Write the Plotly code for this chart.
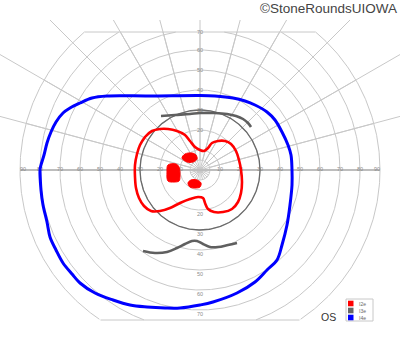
import math
import plotly.graph_objects as go

# ---------------- grid definition (degrees of visual field) ----------------
ring_radii = [5, 10, 20, 30, 40, 50, 60, 70, 80, 90]
meridian_angles = list(range(0, 360, 15))
h_label_values = [10, 20, 30, 40, 50, 60, 70, 80, 90]
v_label_values = [20, 30, 40, 50, 60, 70]
outer_radius = 90
top_limit = 69
bottom_limit = -75

# ---------------- isopters ----------------
# I4e (blue)
i4e_x = [-80, -79.5, -78.5, -76.5, -75, -72, -68.5, -64, -60, -52.5, -43.5, -35, -26.5, -17.5, -10, 0,
         6.5, 18.5, 27.5, 33.5, 38.5, 41, 43.5, 45, 46, 46, 45.5, 44, 41, 37.5, 33.5, 27.5, 22.5, 16.5,
         7.5, 0, -25, -46.5, -54, -60, -65, -68.5, -72, -74.5, -76.5, -78, -79.5]
i4e_y = [0, -10, -17.5, -26, -33.5, -40, -46.5, -52, -56.5, -61.5, -65, -67.5, -68.5, -69, -69, -67.5,
         -66, -61.5, -56, -50, -45, -37.5, -27.5, -17.5, -7.5, 0, 7.5, 12.5, 19, 25, 29, 32.5, 34.5, 36,
         37, 37.25, 37, 37, 36, 33.5, 31, 28.5, 24, 19, 13.5, 7.5, 2.5]

# I2e (red) outer isopter
i2e_x = [-30, -27.5, -24, -20, -16, -11.5, -7.5, -5, -2.5, 0, 2, 4, 6, 9, 12.5, 15.5, 18, 19.5, 20.5,
         21, 20.5, 19, 16, 11.5, 7, 4, 2.5, 1.5, -1, -5, -10, -15, -20, -24.5, -28, -30.5, -32, -32.5,
         -32.5, -31.5]
i2e_y = [12.5, 16.5, 19.5, 20.5, 20.5, 19.5, 17.5, 14.5, 11.5, 10, 9.5, 11, 13.5, 14.5, 14.5, 13, 9.5,
         5, 0, -6, -11.5, -16, -19.5, -21, -21, -19.5, -16.5, -14, -13.5, -14.5, -16.5, -19, -20.5,
         -20.5, -18, -14, -9, -3.5, 2.5, 8]

# I2e scotomas (filled)
scot_upper_x = [-9, -7.5, -4, -2, -1.5, -3.5, -6.5]
scot_upper_y = [6, 8, 8.5, 7.5, 5.5, 4, 4]
scot_left_x = [-16, -12, -10.5, -10, -10.5, -13, -16, -16.5]
scot_left_y = [2.5, 3, 1.5, -3, -5.5, -6, -5.5, -1]
scot_lower_x = [-6, -4.5, -1.5, 0.5, 0, -2.5, -5]
scot_lower_y = [-6.5, -5, -5, -6.5, -8.5, -9, -8.5]

# I3e (dark gray)
i3e_ring_radius = 30
i3e_upper_x = [-19.5, -12.5, -5, 0, 7.5, 13.5, 18, 21.5, 24, 25.5]
i3e_upper_y = [27, 27.5, 28, 28.5, 28.5, 28, 27, 25.5, 23.5, 21.5]
i3e_lower_x = [-28.5, -22.5, -16.5, -11.5, -7.5, -4, -1.5, 1.5, 5, 9, 14, 18.5]
i3e_lower_y = [-40.5, -41.5, -41, -39, -37, -35.5, -35.5, -37, -38.5, -38.5, -37.5, -36.5]

legend_labels = ["I2e", "I3e", "I4e"]
legend_colors = ["#ff0000", "#666666", "#0000ff"]
eye_label = "OS"
credit = "©StoneRoundsUIOWA"

GRID = "#c8c8c8"

fig = go.Figure()


def add_line(xs, ys, color, width, shape="linear"):
    fig.add_trace(go.Scatter(x=xs, y=ys, mode="lines", line=dict(color=color, width=width, shape=shape),
                             hoverinfo="skip", connectgaps=False))


# circles: one trace per contiguous arc (clipped by the flat top / bottom edges)
for r in ring_radii:
    n = 720
    arcs, cur = [], []
    for k in range(n + 1):
        a = 2 * math.pi * k / n
        x, y = float(r * math.cos(a)), float(r * math.sin(a))
        if bottom_limit <= y <= top_limit:
            cur.append((x, y))
        else:
            if len(cur) > 1:
                arcs.append(cur)
            cur = []
    if len(cur) > 1:
        arcs.append(cur)
    for arc in arcs:
        add_line([p[0] for p in arc], [p[1] for p in arc], GRID, 1)

# meridians
for ang in meridian_angles:
    a = math.radians(ang)
    c, s = math.cos(a), math.sin(a)
    r_end = float(outer_radius)
    if s > 1e-9:
        r_end = min(r_end, top_limit / s)
    elif s < -1e-9:
        r_end = min(r_end, -bottom_limit / s)
    add_line([5.0 * c, r_end * c], [5.0 * s, r_end * s], GRID, 1)

# flat boundary lines
xt = math.sqrt(outer_radius ** 2 - top_limit ** 2)
xb = math.sqrt(outer_radius ** 2 - bottom_limit ** 2)
add_line([-xt, xt], [top_limit, top_limit], GRID, 1)
add_line([-xb, xb], [bottom_limit, bottom_limit], GRID, 1)
add_line([-outer_radius, outer_radius], [0, 0], "#bdbdbd", 2)

# grid labels
lx, ly, lt = [], [], []
for v in h_label_values:
    off = 1.5 if v == 90 else 0
    lx += [-(v - off), v - off]; ly += [0, 0]; lt += [str(v), str(v)]
for v in v_label_values:
    lx += [0, 0]; ly += [min(v, top_limit) - 0.5, -(v + 2.3)]; lt += [str(v), str(v)]
fig.add_trace(go.Scatter(x=lx, y=ly, mode="text", text=lt,
                         textfont=dict(size=5.5, color="#8c8c8c", family="Liberation Sans"),
                         hoverinfo="skip"))

# I3e
ring_n = 360
add_line([i3e_ring_radius * math.cos(2 * math.pi * k / ring_n) for k in range(ring_n + 1)],
         [i3e_ring_radius * math.sin(2 * math.pi * k / ring_n) for k in range(ring_n + 1)], "#6a6a6a", 1.3)
add_line(i3e_upper_x, i3e_upper_y, "#5f5f5f", 2.6, "spline")
add_line(i3e_lower_x, i3e_lower_y, "#5f5f5f", 2.6, "spline")

# I2e
add_line(i2e_x + i2e_x[:2], i2e_y + i2e_y[:2], "#ff0000", 2.6, "spline")
for sx, sy in [(scot_upper_x, scot_upper_y), (scot_left_x, scot_left_y), (scot_lower_x, scot_lower_y)]:
    fig.add_trace(go.Scatter(x=sx + sx[:1], y=sy + sy[:1], mode="lines", fill="toself",
                             fillcolor="#ff0000", line=dict(color="#ff0000", width=1, shape="spline"),
                             hoverinfo="skip"))

# I4e
add_line(i4e_x + i4e_x[:2], i4e_y + i4e_y[:2], "#0000ff", 3, "spline")

W, H = 400, 352
shapes = [dict(type="rect", xref="paper", yref="paper",
               x0=346 / W, x1=373 / W, y0=1 - 321 / H, y1=1 - 299 / H,
               line=dict(color="#c8c8c8", width=1), fillcolor="white")]
annotations = []
for i, (lab, col) in enumerate(zip(legend_labels, legend_colors)):
    yc = 303.5 + 7 * i
    shapes.append(dict(type="rect", xref="paper", yref="paper",
                       x0=348 / W, x1=353.5 / W, y0=1 - (yc + 2.8) / H, y1=1 - (yc - 2.8) / H,
                       line=dict(width=0), fillcolor=col))
    annotations.append(dict(text=lab, xref="paper", yref="paper", x=357 / W, y=1 - yc / H,
                            xanchor="left", yanchor="middle", showarrow=False,
                            font=dict(size=5, color="#666666", family="Liberation Sans")))
annotations.append(dict(text=eye_label, xref="paper", yref="paper", x=328 / W, y=1 - 317 / H,
                        xanchor="center", yanchor="middle", showarrow=False,
                        font=dict(size=10.5, color="#333333", family="Liberation Sans")))
annotations.append(dict(text=credit, xref="paper", yref="paper", x=398.5 / W, y=1 - 8.5 / H,
                        xanchor="right", yanchor="middle", showarrow=False,
                        font=dict(size=13.5, color="#444444", family="Liberation Sans")))

fig.update_layout(
    width=W, height=H, autosize=False,
    margin=dict(l=0, r=0, t=0, b=0),
    paper_bgcolor="white", plot_bgcolor="white",
    showlegend=False,
    xaxis=dict(range=[-100, 100], visible=False, fixedrange=True),
    yaxis=dict(range=[-91, 85], visible=False, fixedrange=True),
    shapes=shapes, annotations=annotations,
)
fig.write_html("out.html")
